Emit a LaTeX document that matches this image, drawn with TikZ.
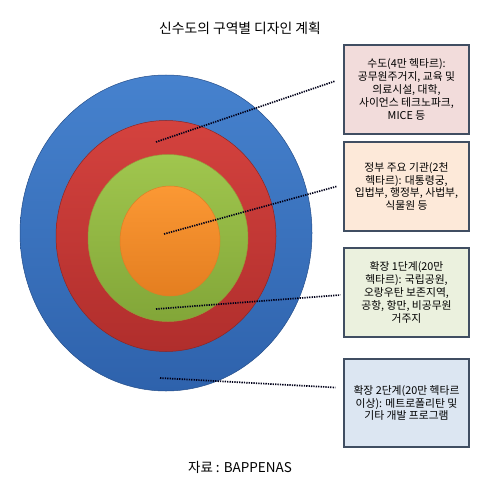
\documentclass[tikz,border=0pt]{standalone}
\usepackage{fontspec}
\setmainfont{Noto Sans CJK KR}
\usetikzlibrary{shapes.geometric}
\definecolor{blueTop}{RGB}{70,130,206}
\definecolor{blueBot}{RGB}{46,98,172}
\definecolor{redTop}{RGB}{212,66,62}
\definecolor{redBot}{RGB}{176,46,44}
\definecolor{greenTop}{RGB}{160,198,78}
\definecolor{greenBot}{RGB}{130,166,56}
\definecolor{orangeTop}{RGB}{251,152,52}
\definecolor{orangeBot}{RGB}{228,126,32}
\definecolor{boxline}{RGB}{64,78,98}
\definecolor{fillA}{RGB}{242,220,219}
\definecolor{fillB}{RGB}{253,233,217}
\definecolor{fillC}{RGB}{235,241,222}
\definecolor{fillD}{RGB}{220,230,242}
\tikzset{
  zone/.style={ellipse, inner sep=0pt, line width=0.5pt},
  infobox/.style={draw=boxline, line width=1.2pt, fill=#1, minimum width=125pt,
    minimum height=89pt, align=center, inner sep=2pt,
    font=\fontsize{10.8}{12.8}\selectfont},
  leader/.style={line width=1.7pt, dash pattern=on 1.3pt off 1.1pt, black!90!blue}
}
\begin{document}
\begin{tikzpicture}[x=1pt,y=-1pt]
  \useasboundingbox (0,0) rectangle (483,486);
  \node[zone, draw=blueBot!80!black, top color=blueTop, bottom color=blueBot,
    minimum width=292pt, minimum height=316pt] (stage2) at (166,233) {};
  \node[zone, draw=redBot!80!black, top color=redTop, bottom color=redBot,
    minimum width=220pt, minimum height=231pt] (stage1) at (166,236) {};
  \node[zone, draw=greenBot!60!brown, top color=greenTop, bottom color=greenBot,
    minimum width=160pt, minimum height=167pt] (capital) at (168,238) {};
  \node[zone, draw=orangeBot!80!brown, top color=orangeTop, bottom color=orangeBot,
    minimum width=100pt, minimum height=110pt] (govt) at (170,241) {};

  \node[infobox=fillA] (boxA) at (406.5,89.5) {수도(4만 헥타르):\\공무원주거지, 교육 및\\의료시설, 대학,\\사이언스 테크노파크,\\MICE 등};
  \node[infobox=fillB] (boxB) at (406.5,186.5) {정부 주요 기관(2천\\헥타르): 대통령궁,\\입법부, 행정부, 사법부,\\식물원 등};
  \node[infobox=fillC] (boxC) at (406.5,292.5) {확장 1단계(20만\\헥타르): 국립공원,\\오랑우탄 보존지역,\\공항, 항만, 비공무원\\거주지};
  \node[infobox=fillD, minimum height=88pt] (boxD) at (406.5,403) {확장 2단계(20만 헥타르\\이상): 메트로폴리탄 및\\기타 개발 프로그램};

  \coordinate (ptA) at (156,142);
  \coordinate (ptB) at (164,234);
  \coordinate (ptC) at (156,309);
  \coordinate (ptD) at (160,378);
  \draw[leader] (ptA) -- ([xshift=-8pt,yshift=8.5pt]boxA.west);
  \draw[leader] (ptB) -- ([xshift=-7pt]boxB.west);
  \draw[leader] (ptC) -- ([xshift=-3pt,yshift=-2.5pt]boxC.west);
  \draw[leader] (ptD) -- ([xshift=-8pt,yshift=15.5pt]boxD.west);

  \node[font=\fontsize{13.8}{16}\selectfont] (title) at (240,28) {신수도의 구역별 디자인 계획};
  \node[font=\fontsize{13.5}{16}\selectfont] (source) at (240,467) {자료 : BAPPENAS};
\end{tikzpicture}
\end{document}
